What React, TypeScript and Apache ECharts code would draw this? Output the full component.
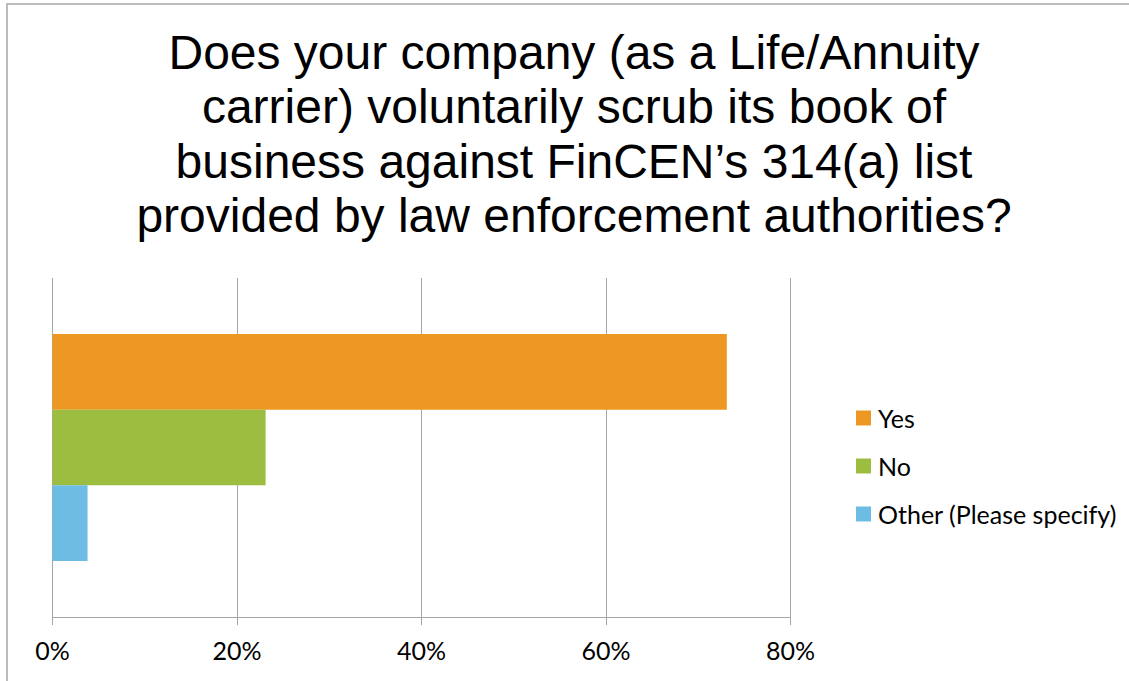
import React, { useEffect, useRef } from "react";
import * as echarts from "echarts";

const titleLines = [
  "Does your company (as a Life/Annuity",
  "carrier) voluntarily scrub its book of",
  "business against FinCEN\u2019s 314(a) list",
  "provided by law enforcement authorities?",
];
const categories = [""];
const seriesNames = ["Yes", "No", "Other (Please specify)"];
const seriesValues = [73.1, 23.1, 3.8];
const seriesColors = ["#EC9823", "#9CBD3F", "#6DBCE4"];
const xMin = 0;
const xMax = 80;
const xInterval = 20;

const GRID_COLOR = "#a6a6a6";
const LABEL_FONT = "Lato, 'Noto Sans', sans-serif";

export default function App() {
  const ref = useRef<HTMLDivElement>(null);
  useEffect(() => {
    if (!ref.current) return;
    const chart = echarts.init(ref.current, null, { renderer: "svg" });
    chart.setOption({
      animation: false,
      backgroundColor: "#ffffff",
      graphic: [
        {
          type: "rect",
          shape: { x: 7, y: 4, width: 1200, height: 800 },
          style: { fill: "none", stroke: "#a6a6a6", lineWidth: 1.5 },
          silent: true,
        },
        {
          type: "text",
          x: 574,
          y: 25,
          silent: true,
          style: {
            text: titleLines.join("\n"),
            align: "center",
            verticalAlign: "top",
            fontFamily: "'Liberation Sans', Arial, sans-serif",
            fontSize: 48,
            lineHeight: 54.5,
            fill: "#000000",
          },
        },
      ],
      legend: {
        orient: "vertical",
        left: 856,
        top: 405,
        padding: 0,
        itemWidth: 15,
        itemHeight: 15,
        itemGap: 22,
        icon: "rect",
        data: seriesNames,
        textStyle: {
          fontFamily: LABEL_FONT,
          fontSize: 25,
          lineHeight: 26,
          color: "#000000",
          padding: [0, 0, 0, 2],
        },
      },
      grid: {
        left: 52.5,
        right: 338.5,
        top: 278,
        bottom: 64,
        containLabel: false,
      },
      xAxis: {
        type: "value",
        min: xMin,
        max: xMax,
        interval: xInterval,
        axisLine: { show: true, lineStyle: { color: GRID_COLOR, width: 1 } },
        axisTick: { show: true, length: 8, lineStyle: { color: GRID_COLOR, width: 1 } },
        splitLine: { show: true, lineStyle: { color: GRID_COLOR, width: 1 } },
        axisLabel: {
          formatter: "{value}%",
          fontFamily: LABEL_FONT,
          fontSize: 25,
          color: "#000000",
          margin: 20,
        },
      },
      yAxis: {
        type: "category",
        data: categories,
        inverse: true,
        axisLine: { show: false },
        axisTick: { show: false },
        axisLabel: { show: false },
        splitLine: { show: false },
      },
      series: seriesNames.map((name, i) => ({
        name,
        type: "bar",
        data: [seriesValues[i]],
        barGap: "0%",
        barCategoryGap: "33%",
        itemStyle: { color: seriesColors[i] },
      })),
    });
    return () => chart.dispose();
  }, []);
  return (
    <div
      ref={ref}
      style={{ position: "fixed", left: 0, top: 0, width: 1129, height: 681 }}
    />
  );
}
